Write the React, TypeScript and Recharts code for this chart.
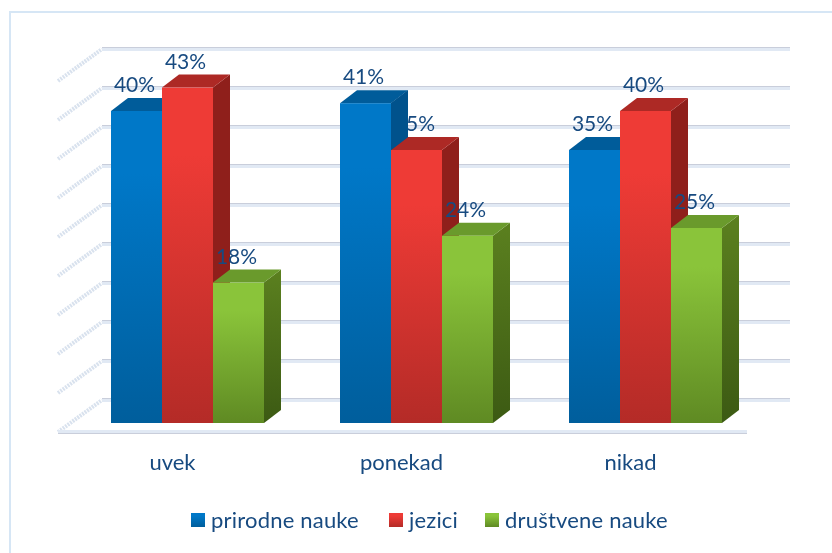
import { BarChart, Bar, XAxis, YAxis, CartesianGrid, LabelList, Legend } from 'recharts';

const categories = ['uvek', 'ponekad', 'nikad'];
const prirodne = [40, 41, 35];
const jezici = [43, 35, 40];
const drustvene = [18, 24, 25];
const yTicks = [0, 5, 10, 15, 20, 25, 30, 35, 40, 45];

const chartData = categories.map((name, i) => ({
  name,
  prirodne: prirodne[i],
  jezici: jezici[i],
  drustvene: drustvene[i],
}));

const TEXT_COLOR = '#174a80';
const FONT = 'Lato, Carlito, sans-serif';
const PLOT_BOTTOM = 423;
const DEPTH_X = 17;
const DEPTH_Y = 13;

const BLUE_SIDE = '#00528c';
const RED_SIDE = '#8f1f1b';

function sidePoints(x: number, top: number, bottom: number) {
  return `${x},${top} ${x + DEPTH_X},${top - DEPTH_Y} ${x + DEPTH_X},${bottom - DEPTH_Y} ${x},${bottom}`;
}

function makeBar(frontId: string, sideFill: string, topFill: string) {
  return function Bar3D(props: any) {
    const { x, y, width, height } = props;
    return (
      <g>
        <polygon points={sidePoints(x + width, y, y + height)} fill={sideFill} />
        <polygon
          points={`${x},${y} ${x + DEPTH_X},${y - DEPTH_Y} ${x + width + DEPTH_X},${y - DEPTH_Y} ${x + width},${y}`}
          fill={topFill}
        />
        <rect x={x} y={y} width={width} height={height} fill={`url(#${frontId})`} />
      </g>
    );
  };
}

function ValueText({ x, width, y, value }: any) {
  return (
    <text x={x + width / 2 - 2} y={y - 19} textAnchor="middle" fill={TEXT_COLOR} fontSize={21} fontFamily={FONT}>
      {value}%
    </text>
  );
}

function PlainLabel(props: any) {
  return <ValueText {...props} />;
}

// in the original the blue side covers the red label where blue is the taller bar
function JeziciLabel(props: any) {
  const { x, y, width, height, index, value } = props;
  const blue = prirodne[index];
  const perUnit = height / value;
  return (
    <g>
      <ValueText {...props} />
      {blue > value && (
        <polygon points={sidePoints(x, y + height - blue * perUnit, y)} fill={BLUE_SIDE} />
      )}
    </g>
  );
}

function GridLine(props: any) {
  const { x1, x2, y1 } = props;
  const backY = y1 - 23;
  const frontY = y1 + 9;
  const isFloor = y1 === PLOT_BOTTOM;
  return (
    <g>
      <line x1={x1 - 15} y1={frontY} x2={x1 + 29} y2={backY} stroke="#d9e2ee" strokeWidth={4} strokeDasharray="2 1" />
      <line x1={x1 + 29} y1={backY} x2={x2 + 30} y2={backY} stroke="#e1e9f4" strokeWidth={4} />
      <line x1={x1 + 29} y1={backY - 1.5} x2={x2 + 30} y2={backY - 1.5} stroke="#c9cedb" strokeWidth={1} />
      {isFloor && (
        <>
          <line x1={x1 - 15} y1={frontY} x2={x2 - 13} y2={frontY} stroke="#e1e9f4" strokeWidth={4} />
          <line x1={x1 - 15} y1={frontY + 1.5} x2={x2 - 13} y2={frontY + 1.5} stroke="#c9cedb" strokeWidth={1} />
        </>
      )}
    </g>
  );
}

function CategoryTick({ x, payload }: any) {
  return (
    <text x={x - 15} y={PLOT_BOTTOM + 47} textAnchor="middle" fill={TEXT_COLOR} fontSize={22} fontFamily={FONT}>
      {payload.value}
    </text>
  );
}

function NoTick() {
  return <g />;
}

const legendGaps = [0, 30, 27];

function LegendRow({ payload }: any) {
  return (
    <div style={{ display: 'flex', alignItems: 'center', fontFamily: FONT, fontSize: 22, letterSpacing: 0.2, color: TEXT_COLOR, lineHeight: '28px' }}>
      {(payload ?? []).map((entry: any, i: number) => (
        <div key={entry.value} style={{ display: 'flex', alignItems: 'center', marginLeft: legendGaps[i] }}>
          <svg width={14} height={14} style={{ marginRight: 6 }}>
            <rect width={14} height={14} fill={entry.color} />
          </svg>
          <span>{entry.value}</span>
        </div>
      ))}
    </div>
  );
}

function Gradient({ id, from, to }: { id: string; from: string; to: string }) {
  return (
    <linearGradient id={id} x1="0" y1="0" x2="0" y2="1">
      <stop offset="0%" stopColor={from} />
      <stop offset="20%" stopColor={from} />
      <stop offset="100%" stopColor={to} />
    </linearGradient>
  );
}

export default function App() {
  return (
    <div style={{ position: 'absolute', left: 0, top: 0, width: 832, height: 553, overflow: 'hidden', background: '#fff' }}>
      <div style={{ position: 'absolute', left: 9, top: 11, right: -6, bottom: -6, border: '2px solid #d6e6f5' }} />
      <div style={{ position: 'absolute', left: 0, top: 0, filter: 'blur(0.4px)' }}>
        <BarChart
          width={832}
          height={553}
          data={chartData}
          margin={{ top: 72, right: 72, bottom: 100, left: 73 }}
          barCategoryGap={38}
          barGap={0}
        >
          <defs>
            <Gradient id="frontBlue" from="#0078c8" to="#005e9c" />
            <Gradient id="frontRed" from="#ee3b36" to="#b42b27" />
            <Gradient id="frontGreen" from="#8ac43a" to="#5f8a23" />
            <linearGradient id="sideGreen" x1="0" y1="0" x2="0" y2="1">
              <stop offset="0%" stopColor="#5b801f" />
              <stop offset="100%" stopColor="#3c5a13" />
            </linearGradient>
          </defs>
          <CartesianGrid vertical={false} horizontal={GridLine} />
          <XAxis dataKey="name" axisLine={false} tickLine={false} tick={CategoryTick} height={30} interval={0} />
          <YAxis domain={[0, 45]} ticks={yTicks} width={0} axisLine={false} tickLine={false} tick={NoTick} />
          <Legend
            layout="horizontal"
            verticalAlign="middle"
            align="center"
            itemSorter={null}
            content={LegendRow}
            wrapperStyle={{ position: 'absolute', left: 191, top: 506, width: 520 }}
          />
          <Bar
            dataKey="prirodne"
            name="prirodne nauke"
            fill="url(#frontBlue)"
            shape={makeBar('frontBlue', BLUE_SIDE, '#005c9a')}
            isAnimationActive={false}
          >
            <LabelList dataKey="prirodne" content={PlainLabel} />
          </Bar>
          <Bar
            dataKey="jezici"
            name="jezici"
            fill="url(#frontRed)"
            shape={makeBar('frontRed', RED_SIDE, '#ad2925')}
            isAnimationActive={false}
          >
            <LabelList dataKey="jezici" content={JeziciLabel} />
          </Bar>
          <Bar
            dataKey="drustvene"
            name="društvene nauke"
            fill="url(#frontGreen)"
            shape={makeBar('frontGreen', 'url(#sideGreen)', '#6a9a2c')}
            isAnimationActive={false}
          >
            <LabelList dataKey="drustvene" content={PlainLabel} />
          </Bar>
        </BarChart>
      </div>
    </div>
  );
}
